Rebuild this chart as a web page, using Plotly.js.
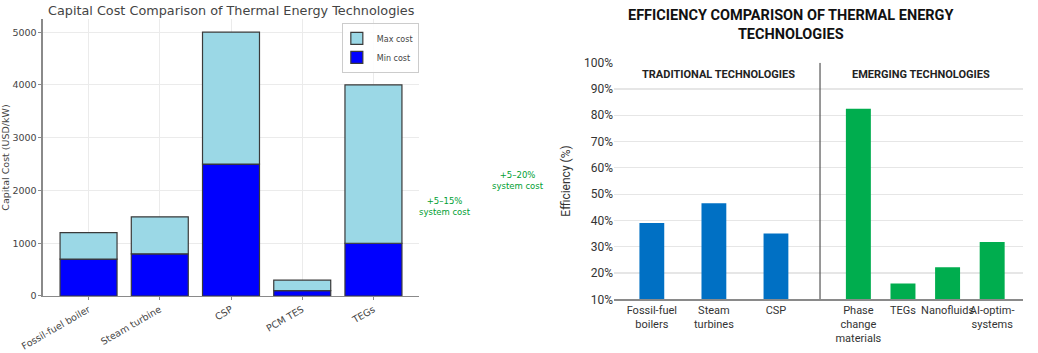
<!DOCTYPE html>
<html>
<head>
<meta charset="utf-8">
<script src="https://cdn.plot.ly/plotly-3.0.1.min.js"></script>
<style>html,body{margin:0;padding:0;background:#fff}#chart{width:1038px;height:353px}</style>
</head>
<body>
<div id="chart"></div>
<script>
// Left chart: capital cost
var costCategories = ['Fossil-fuel boiler', 'Steam turbine', 'CSP', 'PCM TES', 'TEGs'];
var minCost = [700, 800, 2500, 100, 1000];
var maxCost = [1200, 1500, 5000, 300, 4000];
var costTicks = [0, 1000, 2000, 3000, 4000, 5000];

// Right chart: efficiency
var tradCategories = ['Fossil-fuel<br>boilers', 'Steam<br>turbines', 'CSP'];
var tradEfficiency = [39, 46.5, 35];
var emergCategories = ['Phase<br>change<br>materials', 'TEGs', 'Nanofluids', 'AI-optim-<br>systems'];
var emergEfficiency = [82.5, 16, 22.2, 31.8];
var effTicks = [10, 20, 30, 40, 50, 60, 70, 80, 90, 100];
var effTickText = ['10%', '20%', '30%', '40%', '50%', '60%', '70%', '80%', '90%', '100%'];

var maxMinusMin = maxCost.map(function (v, i) { return v - minCost[i]; });

var edge = {color: '#3a3a3a', width: 1.2};
var traces = [
  {type: 'bar', name: 'Min cost', x: costCategories, y: minCost, xaxis: 'x', yaxis: 'y',
   marker: {color: '#0000ff', line: edge}, width: 0.8},
  {type: 'bar', name: 'Max cost', x: costCategories, y: maxMinusMin, base: minCost, xaxis: 'x', yaxis: 'y',
   marker: {color: '#9bd8e6', line: edge}, width: 0.8},
  {type: 'bar', name: 'Traditional', x: tradCategories, y: tradEfficiency, xaxis: 'x2', yaxis: 'y2',
   marker: {color: '#0070c4'}, width: 0.4, showlegend: false},
  {type: 'bar', name: 'Emerging', x: emergCategories, y: emergEfficiency, xaxis: 'x3', yaxis: 'y3',
   marker: {color: '#00ad4e'}, width: 0.56, showlegend: false}
];

var leftFont = {family: 'DejaVu Sans, sans-serif', size: 9.5, color: '#444'};
var rightFont = {family: 'Roboto, Liberation Sans, sans-serif', size: 12, color: '#333'};
var rightXFont = {family: 'Roboto, Liberation Sans, sans-serif', size: 11, color: '#333'};

var layout = {
  width: 1038, height: 353,
  margin: {l: 0, r: 0, t: 0, b: 0},
  paper_bgcolor: '#fff', plot_bgcolor: '#fff',
  barmode: 'overlay',
  showlegend: true,
  legend: {x: 0.4035, xanchor: 'right', y: 0.935, yanchor: 'top', traceorder: 'reversed',
           bgcolor: 'rgba(255,255,255,0.9)', bordercolor: '#cccccc', borderwidth: 1,
           font: {family: 'DejaVu Sans, sans-serif', size: 8, color: '#444'},
           itemwidth: 30, tracegroupgap: 0, indentation: -6},
  xaxis: {domain: [0.0414, 0.4037], range: [-0.64, 4.64], type: 'category',
          showgrid: true, gridcolor: '#ebebeb', gridwidth: 1,
          showline: true, linecolor: '#8a8a8a', linewidth: 1.5,
          ticks: 'outside', ticklen: 3, tickcolor: '#8a8a8a', tickangle: -30,
          tickfont: leftFont, automargin: false, fixedrange: true},
  yaxis: {domain: [0.1615, 0.9462], range: [0, 5250], tickvals: costTicks,
          showgrid: true, gridcolor: '#ebebeb', gridwidth: 1, zeroline: false,
          showline: true, linecolor: '#8a8a8a', linewidth: 1.5,
          ticks: 'outside', ticklen: 3, tickcolor: '#8a8a8a',
          tickfont: leftFont, automargin: false,
          title: {text: 'Capital Cost (USD/kW)', font: {family: 'DejaVu Sans, sans-serif', size: 9.5, color: '#444'}, standoff: 8}},
  xaxis2: {domain: [0.5915, 0.79], range: [-0.61, 2.71], type: 'category', anchor: 'y2',
           showgrid: false, showline: true, linecolor: '#8a8a8a', linewidth: 1.2,
           ticks: '', tickangle: 0, tickfont: rightXFont, automargin: false},
  xaxis3: {domain: [0.79, 0.9855], range: [-0.86, 3.69], type: 'category', anchor: 'y3',
           showgrid: false, showline: true, linecolor: '#8a8a8a', linewidth: 1.2,
           ticks: '', tickangle: 0, tickfont: rightXFont, automargin: false},
  yaxis2: {domain: [0.152, 0.8224], range: [10, 100], tickmode: 'array', tickvals: effTicks, ticktext: effTickText, anchor: 'x2',
           showgrid: true, gridcolor: '#e6e6e6', gridwidth: 1.2, zeroline: false, showline: false,
           ticks: '', tickfont: rightFont, automargin: false,
           title: {text: 'Efficiency (%)', font: {family: 'Roboto, Liberation Sans, sans-serif', size: 12, color: '#333'}, standoff: 10}},
  yaxis3: {domain: [0.152, 0.8224], range: [10, 100], tickvals: effTicks, anchor: 'x3',
           showgrid: true, gridcolor: '#e6e6e6', gridwidth: 1.2, zeroline: false, showline: false,
           showticklabels: false, ticks: ''},
  shapes: [
    {type: 'line', xref: 'paper', yref: 'y2', x0: 0.79, x1: 0.79, y0: 10, y1: 100,
     line: {color: '#555', width: 1.2}}
  ],
  annotations: [
    {text: 'Capital Cost Comparison of Thermal Energy Technologies', xref: 'paper', yref: 'paper',
     x: 231 / 1038, y: 1 - 10 / 353, xanchor: 'center', yanchor: 'middle', showarrow: false,
     font: {family: 'DejaVu Sans, sans-serif', size: 12.8, color: '#444'}},
    {text: 'EFFICIENCY COMPARISON OF THERMAL ENERGY<br>TECHNOLOGIES', xref: 'paper', yref: 'paper',
     x: 790 / 1038, y: 1 - 25 / 353, xanchor: 'center', yanchor: 'middle', showarrow: false,
     font: {family: 'Roboto, Liberation Sans, sans-serif', size: 14.5, color: '#111', weight: 'bold'}},
    {text: 'TRADITIONAL TECHNOLOGIES', xref: 'paper', yref: 'paper',
     x: 718 / 1038, y: 1 - 75 / 353, xanchor: 'center', yanchor: 'middle', showarrow: false,
     font: {family: 'Roboto, Liberation Sans, sans-serif', size: 11, color: '#222', weight: 'bold'}},
    {text: 'EMERGING TECHNOLOGIES', xref: 'paper', yref: 'paper',
     x: 921 / 1038, y: 1 - 75 / 353, xanchor: 'center', yanchor: 'middle', showarrow: false,
     font: {family: 'Roboto, Liberation Sans, sans-serif', size: 11, color: '#222', weight: 'bold'}},
    {text: '+5–15%<br>system cost', xref: 'paper', yref: 'paper',
     x: 445 / 1038, y: 1 - 206 / 353, xanchor: 'center', yanchor: 'middle', showarrow: false,
     font: {family: 'DejaVu Sans, sans-serif', size: 8.5, color: '#00a032'}},
    {text: '+5–20%<br>system cost', xref: 'paper', yref: 'paper',
     x: 518 / 1038, y: 1 - 181 / 353, xanchor: 'center', yanchor: 'middle', showarrow: false,
     font: {family: 'DejaVu Sans, sans-serif', size: 8.5, color: '#00a032'}}
  ]
};

Plotly.newPlot('chart', traces, layout, {displayModeBar: false, staticPlot: true});
</script>
</body>
</html>
